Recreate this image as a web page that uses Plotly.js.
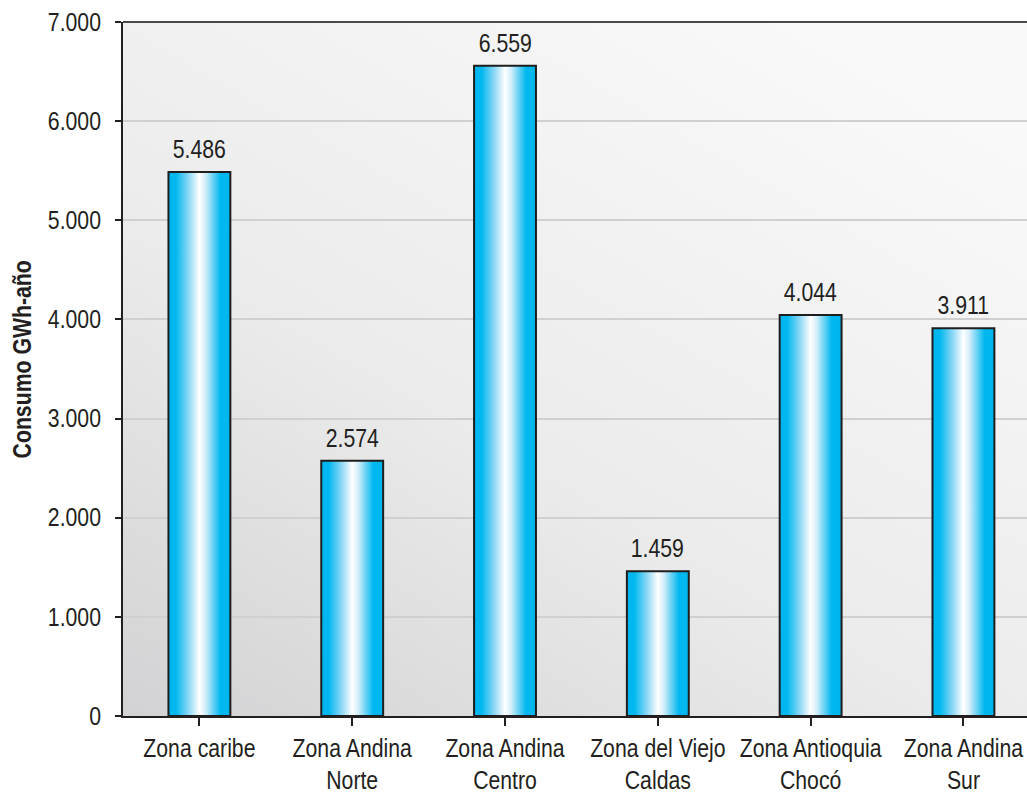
<!DOCTYPE html>
<html>
<head>
<meta charset="utf-8">
<script src="https://cdn.plot.ly/plotly-3.0.1.min.js"></script>
<style>
  html, body { margin: 0; padding: 0; background: #ffffff; }
  #chart { width: 1027px; height: 795px; }
</style>
</head>
<body>
<div id="chart"></div>
<script>
const categories = [
  "Zona caribe",
  "Zona Andina<br>Norte",
  "Zona Andina<br>Centro",
  "Zona del Viejo<br>Caldas",
  "Zona Antioquia<br>Chocó",
  "Zona Andina<br>Sur"
];
const consumo = [5486, 2574, 6559, 1459, 4044, 3911];
const yTitle = "Consumo GWh-año";

const FONT = '"Liberation Sans", Arial, sans-serif';
const INK = '#231f20';
const FS = 25;
const idx = categories.map((c, i) => i);

const trace = {
  type: 'bar',
  x: idx,
  y: consumo,
  width: 0.405,
  marker: { color: '#00b5ef', line: { color: '#1e1e1e', width: 2 } },
  hoverinfo: 'skip'
};

const annotations = consumo.map((v, i) => ({
  x: i, y: v, xref: 'x', yref: 'y',
  text: v.toLocaleString('de-DE'),
  showarrow: false, yanchor: 'bottom', yshift: 7,
  font: { family: FONT, size: FS, color: INK }
}));
annotations.push({
  xref: 'paper', yref: 'paper', x: -101 / 904, y: 0.513,
  xanchor: 'center', yanchor: 'middle', textangle: -90,
  text: '<b>' + yTitle + '</b>', showarrow: false,
  font: { family: FONT, size: 25, color: INK }
});

const layout = {
  width: 1027, height: 795,
  margin: { l: 123, r: 0, t: 22, b: 79 },
  paper_bgcolor: '#ffffff',
  plot_bgcolor: '#eeeeee',
  separators: ',.',
  showlegend: false,
  bargap: 0,
  xaxis: {
    range: [-0.5, 5.416],
    tickmode: 'array', tickvals: idx, ticktext: categories,
    tickson: 'boundaries', ticks: 'outside', ticklen: 8, tickwidth: 2, tickcolor: INK,
    showline: true, linecolor: INK, linewidth: 2,
    showgrid: false, zeroline: false, tickangle: 0,
    ticklabeloverflow: 'allow',
    tickfont: { family: FONT, size: FS, color: INK },
    ticklabelstandoff: 1
  },
  yaxis: {
    range: [0, 7000],
    tickvals: [0, 1000, 2000, 3000, 4000, 5000, 6000, 7000],
    tickformat: ',d',
    ticks: 'outside', ticklen: 6, tickwidth: 2, tickcolor: INK,
    showline: true, linecolor: INK, linewidth: 2,
    showgrid: true, gridcolor: '#d0d0d0', gridwidth: 2,
    zeroline: false,
    tickfont: { family: FONT, size: FS, color: INK },
    ticklabelstandoff: 9
  },
  shapes: [{
    type: 'line', xref: 'paper', yref: 'paper', x0: 0, x1: 1, y0: 1, y1: 1,
    line: { color: '#4a4a4a', width: 2 }
  }],
  annotations: annotations
};

Plotly.newPlot('chart', [trace], layout, { staticPlot: true, displayModeBar: false }).then(gd => {
  const svg = gd.querySelector('svg.main-svg');
  const NS = 'http://www.w3.org/2000/svg';
  let defs = svg.querySelector('defs');
  if (!defs) { defs = document.createElementNS(NS, 'defs'); svg.insertBefore(defs, svg.firstChild); }
  function grad(id, x1, y1, x2, y2, stops) {
    const g = document.createElementNS(NS, 'linearGradient');
    g.setAttribute('id', id);
    g.setAttribute('x1', x1); g.setAttribute('y1', y1);
    g.setAttribute('x2', x2); g.setAttribute('y2', y2);
    stops.forEach(([o, c]) => {
      const s = document.createElementNS(NS, 'stop');
      s.setAttribute('offset', o); s.setAttribute('stop-color', c);
      g.appendChild(s);
    });
    defs.appendChild(g);
  }
  grad('barGrad', 0, 0, 1, 0, [
    [0, '#00b5ef'], [0.12, '#00b8ef'], [0.33, '#8fd8f6'], [0.5, '#ffffff'],
    [0.6, '#d2edfa'], [0.84, '#00b8ef'], [1, '#00b5ef']
  ]);
  grad('bgGrad', 0, 1, 0.75, 0, [
    [0, '#d2d2d4'], [0.45, '#ebebeb'], [1, '#f9f9f9']
  ]);
  gd.querySelectorAll('.bars .point path').forEach(p => { p.style.fill = 'url(#barGrad)'; });
  const bg = gd.querySelector('.bglayer rect.bg');
  if (bg) bg.style.fill = 'url(#bgGrad)';

  // condensed look: squeeze text horizontally around its anchor
  const K = 0.85;
  gd.querySelectorAll('.xtick text, .ytick text, text.annotation-text').forEach(el => {
    const x = parseFloat(el.getAttribute('x')) || 0;
    const t = el.getAttribute('transform') || '';
    el.setAttribute('transform', t + ' translate(' + x + ',0) scale(' + K + ',1) translate(' + (-x) + ',0)');
  });
});
</script>
</body>
</html>
